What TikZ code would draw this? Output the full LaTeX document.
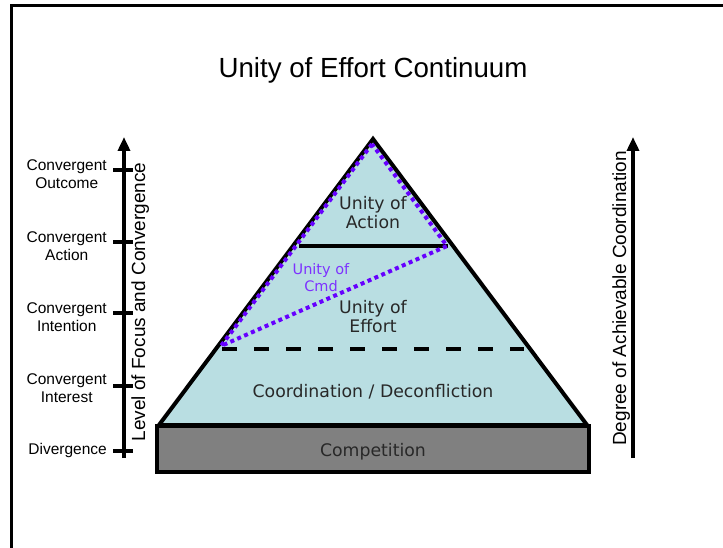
\documentclass[tikz,border=0pt]{standalone}
\usepackage{fontspec}
\setmainfont{Liberation Sans}
\newfontfamily\verd{DejaVu Sans}
\usetikzlibrary{arrows.meta}
\definecolor{pyrfill}{RGB}{185,222,226}
\definecolor{compgray}{RGB}{128,128,128}
\definecolor{cmdpurple}{RGB}{102,0,255}
\definecolor{cmdtext}{RGB}{125,50,255}
\definecolor{pyrtext}{RGB}{40,40,40}
\begin{document}
\begin{tikzpicture}[x=1pt,y=-1pt,
  pyrlabel/.style={inner sep=0pt, align=center, text=pyrtext, font=\verd\fontsize{17.3}{19}\selectfont},
  axlabel/.style={inner sep=0pt, align=center, anchor=east, font=\fontsize{15.5}{18}\selectfont},
  sidelabel/.style={inner sep=0pt, rotate=90, anchor=base, font=\fontsize{19}{21}\selectfont},
  axtick/.style={line width=3.5pt},
  axarrow/.style={line width=3.5pt, -{Triangle[length=14pt,width=12pt]}}]
\useasboundingbox (0,0) rectangle (723,548);
% frame
\coordinate (fb) at (11,548);
\coordinate (fc) at (11,6);
\coordinate (fr) at (723,6);
\draw[line width=3pt] (fb) -- (fc) -- (fr);
% title
\node[inner sep=0pt, anchor=base, font=\fontsize{27.7}{30}\selectfont] (title) at (373,78) {Unity of Effort Continuum};
% pyramid
\coordinate (apex) at (373,139);
\coordinate (bl) at (159,425);
\coordinate (br) at (587,425);
\fill[pyrfill] (apex) -- (bl) -- (br) -- cycle;
\coordinate (sl) at (299,246);
\coordinate (sr) at (448,246);
\draw[line width=4pt] (sl) -- (sr);
\coordinate (dl) at (222,349);
\coordinate (dr) at (524,349);
\draw[line width=4pt, dash pattern=on 15pt off 17pt] (dl) -- (dr);
\draw[line width=4pt, line join=miter] (apex) -- (bl) -- (br) -- cycle;
\coordinate (pa) at (372,144);
\coordinate (pb) at (221,346);
\coordinate (pc) at (447,246);
\draw[cmdpurple, line width=4pt, dash pattern=on 4pt off 3.5pt] (pa) -- (pb) -- (pc) -- cycle;
\draw[line width=4.5pt, fill=compgray] (157,426) rectangle (589,472);
% pyramid labels
\node[pyrlabel] (action) at (373,213) {Unity of\\Action};
\node[pyrlabel] (effort) at (373,317) {Unity of\\Effort};
\node[pyrlabel, text=cmdtext, font=\verd\fontsize{14.5}{17}\selectfont] (cmd) at (321,278) {Unity of\\Cmd};
\node[pyrlabel] (coord) at (373,392) {Coordination / Deconfliction};
\node[pyrlabel] (comp) at (373,452) {Competition};
% left axis
\coordinate (lbot) at (124,458);
\coordinate (ltop) at (124,137);
\draw[axarrow] (lbot) -- (ltop);
\foreach \ty/\nm in {170/t1,242/t2,313/t3,386/t4,451/t5}{
  \coordinate (\nm a) at (113,\ty);
  \coordinate (\nm b) at (133,\ty);
  \draw[axtick] (\nm a) -- (\nm b);
}
\node[axlabel] (l1) at (107,174) {Convergent\\Outcome};
\node[axlabel] (l2) at (107,246) {Convergent\\Action};
\node[axlabel] (l3) at (107,317.5) {Convergent\\Intention};
\node[axlabel] (l4) at (107,388.5) {Convergent\\Interest};
\node[axlabel] (l5) at (107,450) {Divergence};
\node[sidelabel] (lfc) at (145,302) {Level of Focus and Convergence};
% right axis
\coordinate (rbot) at (633,458);
\coordinate (rtop) at (633,137);
\draw[axarrow] (rbot) -- (rtop);
\node[sidelabel] (dac) at (626,298.5) {Degree of Achievable Coordination};
\end{tikzpicture}
\end{document}
